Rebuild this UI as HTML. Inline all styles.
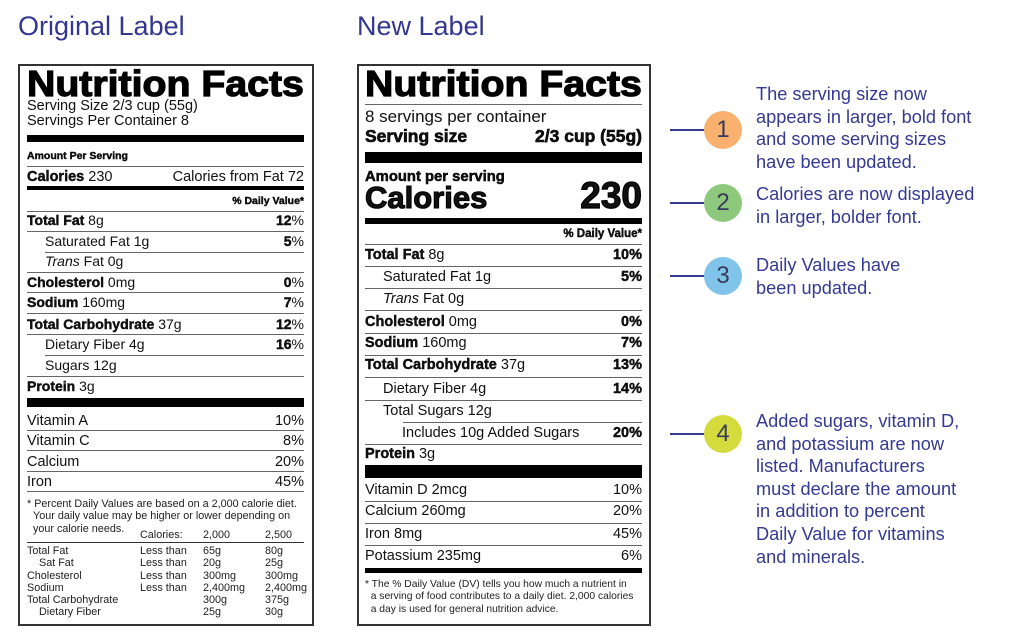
<!DOCTYPE html>
<html><head><meta charset="utf-8">
<style>
body{margin:0;background:#fff;}
#root{position:relative;width:1024px;height:643px;overflow:hidden;background:#fff;font-family:"Liberation Sans",Arial,sans-serif;color:#111;}
.ab{position:absolute;}
.h{position:absolute;font-size:27px;color:#33378f;top:10px;line-height:32px;}
.box{position:absolute;border:2px solid #333;box-sizing:border-box;top:64px;height:562px;}
.title{position:absolute;font-weight:bold;font-size:36px;line-height:36px;transform-origin:left top;transform:scaleX(1.09);-webkit-text-stroke:1.2px #000;color:#000;white-space:nowrap;}
.r{position:absolute;display:flex;justify-content:space-between;height:18px;line-height:18px;white-space:nowrap;}
.o{font-size:14px;}
.n{font-size:14.5px;}
.b{font-weight:bold;-webkit-text-stroke:0.4px #000;}
.hl{position:absolute;height:1px;background:#666;}
.tb{position:absolute;background:#000;}
.sm{position:absolute;font-size:10.8px;line-height:12.3px;white-space:nowrap;color:#222;}
.ann{position:absolute;left:756px;font-size:18.2px;line-height:22.6px;color:#353a92;white-space:nowrap;}
.c{position:absolute;width:38px;height:38px;border-radius:50%;font-size:24px;line-height:38px;text-align:center;color:#3a3a5a;}
.ln{position:absolute;left:670px;width:36px;height:2px;background:#353a92;}
</style></head><body>
<div id="root">
<div class="h" style="left:18px">Original Label</div>
<div class="h" style="left:357px">New Label</div>

<!-- ORIGINAL -->
<div class="box" style="left:18px;width:296px"></div>
<div class="title" style="left:27px;top:66px">Nutrition Facts</div>
<div class="r o" style="left:27px;top:97px;font-size:14.5px"><span>Serving Size 2/3 cup (55g)</span></div>
<div class="r o" style="left:27px;top:112px;font-size:14.5px"><span>Servings Per Container 8</span></div>
<div class="tb" style="left:27px;width:277px;top:135px;height:7px"></div>
<div class="r b" style="left:27px;top:147px;font-size:10.5px"><span>Amount Per Serving</span></div>
<div class="hl" style="left:27px;width:277px;top:166px"></div>
<div class="r o" style="left:27px;width:277px;top:168px;font-size:14.5px"><span><span class="b">Calories</span> 230</span><span>Calories from Fat 72</span></div>
<div class="tb" style="left:27px;width:277px;top:186px;height:4px"></div>
<div class="r b" style="left:27px;width:277px;top:192px;font-size:10.5px;justify-content:flex-end"><span>% Daily Value*</span></div>
<div class="hl" style="left:27px;width:277px;top:211px"></div>
<div class="r o" style="left:27px;width:277px;top:211px"><span><span class="b">Total Fat</span> 8g</span><span><span class="b">12</span>%</span></div>
<div class="hl" style="left:27px;width:277px;top:231px"></div>
<div class="r o" style="left:45px;width:259px;top:232px"><span>Saturated Fat 1g</span><span><span class="b">5</span>%</span></div>
<div class="hl" style="left:45px;width:259px;top:252px"></div>
<div class="r o" style="left:45px;width:259px;top:252px"><span><i>Trans</i> Fat 0g</span></div>
<div class="hl" style="left:27px;width:277px;top:272px"></div>
<div class="r o" style="left:27px;width:277px;top:273px"><span><span class="b">Cholesterol</span> 0mg</span><span><span class="b">0</span>%</span></div>
<div class="hl" style="left:27px;width:277px;top:292px"></div>
<div class="r o" style="left:27px;width:277px;top:293px"><span><span class="b">Sodium</span> 160mg</span><span><span class="b">7</span>%</span></div>
<div class="hl" style="left:27px;width:277px;top:313px"></div>
<div class="r o" style="left:27px;width:277px;top:315px"><span><span class="b">Total Carbohydrate</span> 37g</span><span><span class="b">12</span>%</span></div>
<div class="hl" style="left:27px;width:277px;top:334px"></div>
<div class="r o" style="left:45px;width:259px;top:335px"><span>Dietary Fiber 4g</span><span><span class="b">16</span>%</span></div>
<div class="hl" style="left:45px;width:259px;top:355px"></div>
<div class="r o" style="left:45px;width:259px;top:356px"><span>Sugars 12g</span></div>
<div class="hl" style="left:27px;width:277px;top:376px"></div>
<div class="r o" style="left:27px;width:277px;top:377px"><span><span class="b">Protein</span> 3g</span></div>
<div class="tb" style="left:27px;width:277px;top:398px;height:9px"></div>
<div class="r o" style="left:27px;width:277px;top:412px;font-size:14.5px"><span>Vitamin A</span><span>10%</span></div>
<div class="hl" style="left:27px;width:277px;top:430px"></div>
<div class="r o" style="left:27px;width:277px;top:432px;font-size:14.5px"><span>Vitamin C</span><span>8%</span></div>
<div class="hl" style="left:27px;width:277px;top:450px"></div>
<div class="r o" style="left:27px;width:277px;top:453px;font-size:14.5px"><span>Calcium</span><span>20%</span></div>
<div class="hl" style="left:27px;width:277px;top:471px"></div>
<div class="r o" style="left:27px;width:277px;top:473px;font-size:14.5px"><span>Iron</span><span>45%</span></div>
<div class="hl" style="left:27px;width:277px;top:491px"></div>
<div class="sm" style="left:27px;top:498px">* Percent Daily Values are based on a 2,000 calorie diet.<br>&nbsp;&nbsp;Your daily value may be higher or lower depending on<br>&nbsp;&nbsp;your calorie needs.</div>
<div class="sm" style="left:140px;top:529px">Calories:</div><div class="sm" style="left:203px;top:529px">2,000</div><div class="sm" style="left:265px;top:529px">2,500</div>
<div class="hl" style="left:27px;width:277px;top:542px;background:#333"></div>
<div class="sm" style="left:27px;top:545px">Total Fat<br>&nbsp;&nbsp;&nbsp;&nbsp;Sat Fat<br>Cholesterol<br>Sodium<br>Total Carbohydrate<br>&nbsp;&nbsp;&nbsp;&nbsp;Dietary Fiber</div>
<div class="sm" style="left:140px;top:545px">Less than<br>Less than<br>Less than<br>Less than</div>
<div class="sm" style="left:203px;top:545px">65g<br>20g<br>300mg<br>2,400mg<br>300g<br>25g</div>
<div class="sm" style="left:265px;top:545px">80g<br>25g<br>300mg<br>2,400mg<br>375g<br>30g</div>

<!-- NEW -->
<div class="box" style="left:357px;width:294px"></div>
<div class="title" style="left:365px;top:66px">Nutrition Facts</div>
<div class="hl" style="left:365px;width:277px;top:104px"></div>
<div class="r" style="left:365px;top:108px;font-size:17px"><span>8 servings per container</span></div>
<div class="r b" style="left:365px;width:277px;top:127px;font-size:17.5px;-webkit-text-stroke:0.6px #000"><span>Serving size</span><span>2/3 cup (55g)</span></div>
<div class="tb" style="left:365px;width:277px;top:152px;height:11px"></div>
<div class="r b" style="left:365px;top:168px;font-size:14.8px;-webkit-text-stroke:0.5px #000"><span>Amount per serving</span></div>
<div class="ab b" style="left:365px;top:183px;font-size:31px;line-height:30px;-webkit-text-stroke:1.1px #000">Calories</div>
<div class="ab b" style="right:382px;top:176px;font-size:37px;line-height:40px;-webkit-text-stroke:1.2px #000">230</div>
<div class="tb" style="left:365px;width:277px;top:218px;height:6px"></div>
<div class="r b" style="left:365px;width:277px;top:225px;font-size:11.5px;justify-content:flex-end"><span>% Daily Value*</span></div>
<div class="hl" style="left:365px;width:277px;top:244px"></div>
<div class="r n" style="left:365px;width:277px;top:246px"><span><span class="b">Total Fat</span> 8g</span><span class="b">10%</span></div>
<div class="hl" style="left:365px;width:277px;top:266px"></div>
<div class="r n" style="left:383px;width:259px;top:268px"><span>Saturated Fat 1g</span><span class="b">5%</span></div>
<div class="hl" style="left:365px;width:277px;top:288px"></div>
<div class="r n" style="left:383px;width:259px;top:290px"><span><i>Trans</i> Fat 0g</span></div>
<div class="hl" style="left:365px;width:277px;top:310px"></div>
<div class="r n" style="left:365px;width:277px;top:313px"><span><span class="b">Cholesterol</span> 0mg</span><span class="b">0%</span></div>
<div class="hl" style="left:365px;width:277px;top:333px"></div>
<div class="r n" style="left:365px;width:277px;top:334px"><span><span class="b">Sodium</span> 160mg</span><span class="b">7%</span></div>
<div class="hl" style="left:365px;width:277px;top:355px"></div>
<div class="r n" style="left:365px;width:277px;top:356px"><span><span class="b">Total Carbohydrate</span> 37g</span><span class="b">13%</span></div>
<div class="hl" style="left:365px;width:277px;top:377px"></div>
<div class="r n" style="left:383px;width:259px;top:380px"><span>Dietary Fiber 4g</span><span class="b">14%</span></div>
<div class="hl" style="left:365px;width:277px;top:400px"></div>
<div class="r n" style="left:383px;width:259px;top:402px"><span>Total Sugars 12g</span></div>
<div class="hl" style="left:403px;width:239px;top:422px"></div>
<div class="r n" style="left:402px;width:240px;top:424px"><span>Includes 10g Added Sugars</span><span class="b">20%</span></div>
<div class="hl" style="left:365px;width:277px;top:444px"></div>
<div class="r n" style="left:365px;width:277px;top:445px"><span><span class="b">Protein</span> 3g</span></div>
<div class="tb" style="left:365px;width:277px;top:465px;height:13px"></div>
<div class="r n" style="left:365px;width:277px;top:481px"><span>Vitamin D 2mcg</span><span>10%</span></div>
<div class="hl" style="left:365px;width:277px;top:501px"></div>
<div class="r n" style="left:365px;width:277px;top:502px"><span>Calcium 260mg</span><span>20%</span></div>
<div class="hl" style="left:365px;width:277px;top:523px"></div>
<div class="r n" style="left:365px;width:277px;top:525px"><span>Iron 8mg</span><span>45%</span></div>
<div class="hl" style="left:365px;width:277px;top:545px"></div>
<div class="r n" style="left:365px;width:277px;top:547px"><span>Potassium 235mg</span><span>6%</span></div>
<div class="tb" style="left:365px;width:277px;top:568px;height:5px"></div>
<div class="sm" style="left:365px;top:579px;font-size:10.3px">* The % Daily Value (DV) tells you how much a nutrient in<br>&nbsp;&nbsp;a serving of food contributes to a daily diet. 2,000 calories<br>&nbsp;&nbsp;a day is used for general nutrition advice.</div>

<!-- ANNOTATIONS -->
<div class="ln" style="top:129px"></div>
<div class="c" style="left:704px;top:111px;background:#f9b170">1</div>
<div class="ann" style="top:83px">The serving size now<br>appears in larger, bold font<br>and some serving sizes<br>have been updated.</div>
<div class="ln" style="top:202px"></div>
<div class="c" style="left:704px;top:184px;background:#8dc87c">2</div>
<div class="ann" style="top:183px">Calories are now displayed<br>in larger, bolder font.</div>
<div class="ln" style="top:275px"></div>
<div class="c" style="left:704px;top:257px;background:#80c4ea">3</div>
<div class="ann" style="top:254px">Daily Values have<br>been updated.</div>
<div class="ln" style="top:433px"></div>
<div class="c" style="left:704px;top:415px;background:#d4db3c">4</div>
<div class="ann" style="top:410px">Added sugars, vitamin D,<br>and potassium are now<br>listed. Manufacturers<br>must declare the amount<br>in addition to percent<br>Daily Value for vitamins<br>and minerals.</div>
</div>
</body></html>
